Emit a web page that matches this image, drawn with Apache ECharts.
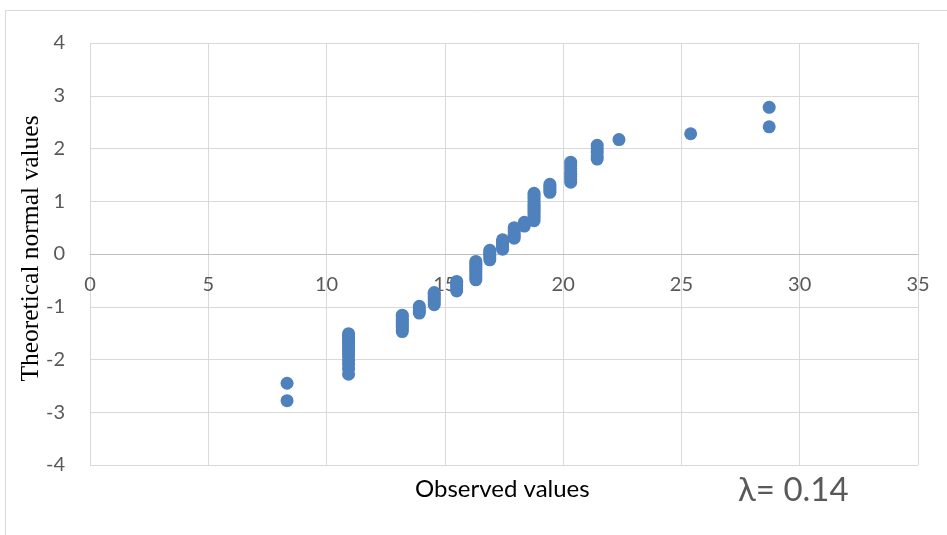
<!DOCTYPE html>
<html>
<head>
<meta charset="utf-8">
<script src="https://cdn.jsdelivr.net/npm/echarts@6/dist/echarts.min.js"></script>
<style>
  html, body { margin: 0; padding: 0; background: #fff; }
  #chart { width: 947px; height: 535px; }
</style>
</head>
<body>
<div id="chart"></div>
<script>
// observed value of each group of tied observations
var observedValues = [8.33, 10.93, 13.2, 13.92, 14.55, 15.5, 16.31, 16.9, 17.44, 17.93, 18.36, 18.77, 19.44, 20.32, 21.44, 22.36, 25.39, 28.71];
// theoretical normal quantiles read for each group
var normalValues = [
    [-2.78, -2.45],
    [-2.28, -2.18, -2.09, -2.02, -1.95, -1.89, -1.84, -1.79, -1.74, -1.70, -1.66, -1.62, -1.58, -1.55, -1.51],
    [-1.47, -1.43, -1.39, -1.35, -1.31, -1.27, -1.23, -1.19, -1.16],
    [-1.12, -1.08, -1.04, -0.99],
    [-0.96, -0.92, -0.88, -0.84, -0.80, -0.76, -0.73],
    [-0.70, -0.66, -0.62, -0.58, -0.54, -0.52],
    [-0.49, -0.45, -0.41, -0.37, -0.33, -0.29, -0.25, -0.21, -0.17, -0.14],
    [-0.11, -0.07, -0.03, 0.01, 0.04, 0.07],
    [0.09, 0.13, 0.17, 0.21, 0.24, 0.27],
    [0.30, 0.34, 0.38, 0.42, 0.46, 0.50],
    [0.53, 0.57, 0.60],
    [0.63, 0.67, 0.71, 0.75, 0.79, 0.83, 0.87, 0.91, 0.95, 0.99, 1.03, 1.07, 1.11, 1.15],
    [1.17, 1.21, 1.25, 1.29, 1.32],
    [1.36, 1.41, 1.46, 1.51, 1.56, 1.62, 1.68, 1.74],
    [1.80, 1.86, 1.93, 2.00, 2.06],
    [2.17],
    [2.28],
    [2.41, 2.78]
];
var xTicks = [0, 5, 10, 15, 20, 25, 30, 35];
var yTicks = [-4, -3, -2, -1, 0, 1, 2, 3, 4];

var points = [];
for (var i = 0; i < observedValues.length; i++) {
    for (var j = 0; j < normalValues[i].length; j++) {
        points.push([observedValues[i], normalValues[i][j]]);
    }
}

var labelFont = 'Lato, "Open Sans", sans-serif';
var gridTop = 43, gridBottom = 70;
var gridHeight = 535 - gridTop - gridBottom;

var chart = echarts.init(document.getElementById('chart'));
var option = {
    animation: false,
    grid: {
        left: 90,
        right: 29,
        top: gridTop,
        bottom: gridBottom
    },
    xAxis: {
        type: 'value',
        min: xTicks[0],
        max: xTicks[xTicks.length - 1],
        interval: 5,
        // axis crosses at y = 0, the middle of the plot
        offset: -gridHeight / 2,
        axisLine: {
            onZero: false,
            lineStyle: { color: '#bfbfbf', width: 1 }
        },
        axisTick: { show: false },
        axisLabel: {
            color: '#595959',
            fontSize: 20,
            fontFamily: labelFont,
            margin: 21
        },
        splitLine: {
            show: true,
            lineStyle: { color: '#d9d9d9', width: 1 }
        }
    },
    yAxis: {
        type: 'value',
        min: yTicks[0],
        max: yTicks[yTicks.length - 1],
        interval: 1,
        axisLine: { show: false },
        axisTick: { show: false },
        axisLabel: {
            color: '#595959',
            fontSize: 20,
            fontFamily: labelFont,
            margin: 25
        },
        splitLine: {
            show: true,
            lineStyle: { color: '#d9d9d9', width: 1 }
        }
    },
    series: [{
        type: 'scatter',
        symbol: 'circle',
        symbolSize: 13,
        itemStyle: { color: '#4f81bd', opacity: 1 },
        data: points
    }],
    graphic: [
        {
            type: 'rect',
            shape: { x: 5.5, y: 10.5, width: 1000, height: 600 },
            style: { fill: 'none', stroke: '#d9d9d9', lineWidth: 1 },
            silent: true
        },
        {
            type: 'text',
            x: 31,
            y: 248.5,
            rotation: Math.PI / 2,
            style: {
                text: 'Theoretical normal values',
                fill: '#000',
                fontSize: 25.5,
                fontFamily: '"Liberation Serif", "DejaVu Serif", serif',
                align: 'center',
                verticalAlign: 'middle'
            }
        },
        {
            type: 'text',
            x: 415,
            y: 489,
            style: {
                text: 'Observed values',
                fill: '#000',
                fontSize: 24,
                fontFamily: labelFont,
                align: 'left',
                verticalAlign: 'middle'
            }
        },
        {
            type: 'text',
            x: 738,
            y: 490,
            style: {
                text: 'λ= 0.14',
                fill: '#595959',
                fontSize: 33,
                fontFamily: labelFont,
                align: 'left',
                verticalAlign: 'middle'
            }
        }
    ]
};
chart.setOption(option);
</script>
</body>
</html>
